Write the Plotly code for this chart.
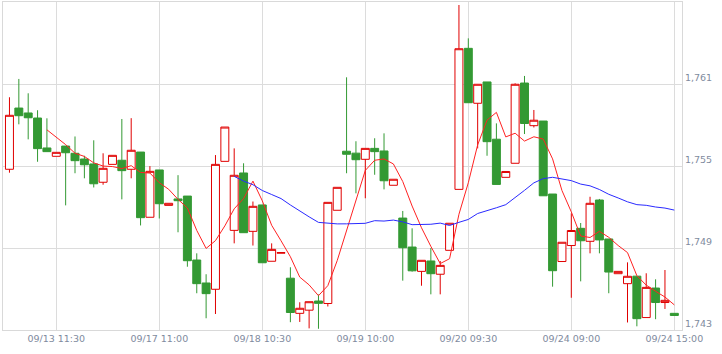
import plotly.graph_objects as go
import pandas as pd

open_ = [1754.76, 1759.24, 1758.88, 1758.51, 1756.32, 1755.71, 1756.46, 1755.93, 1755.51, 1755.15,
         1753.81, 1755.12, 1755.42, 1754.76, 1756.02, 1751.25, 1754.71, 1752.12, 1752.59, 1752.80,
         1748.12, 1746.44, 1745.98, 1755.34, 1750.29, 1754.49, 1750.22, 1752.15, 1748.03, 1748.62,
         1746.79, 1744.22, 1744.45, 1745.12, 1744.94, 1751.76, 1756.08, 1755.94, 1755.49, 1756.29,
         1756.10, 1753.59, 1751.19, 1749.07, 1747.29, 1748.05, 1747.08, 1748.83, 1753.29, 1763.61,
         1759.59, 1761.15, 1756.96, 1754.17, 1755.20, 1761.07, 1757.95, 1758.29, 1752.95, 1748.01,
         1749.18, 1750.44, 1749.49, 1752.51, 1749.66, 1747.12, 1746.39, 1746.94, 1743.91, 1746.07,
         1745.01, 1744.22]
high = [1760.03, 1761.37, 1760.32, 1759.08, 1758.49, 1756.00, 1756.46, 1757.16, 1755.75, 1756.88,
        1755.93, 1755.78, 1758.44, 1758.50, 1756.02, 1754.99, 1754.71, 1752.27, 1754.33, 1752.80,
        1748.61, 1747.08, 1755.80, 1757.85, 1756.29, 1755.20, 1752.40, 1752.15, 1749.34, 1748.66,
        1747.59, 1745.03, 1745.07, 1745.60, 1752.34, 1753.44, 1761.49, 1756.81, 1756.29, 1757.03,
        1757.39, 1754.03, 1751.71, 1750.44, 1748.10, 1749.00, 1748.05, 1750.81, 1766.78, 1764.34,
        1760.98, 1761.15, 1758.12, 1754.60, 1761.05, 1761.59, 1759.10, 1758.29, 1752.95, 1749.42,
        1751.54, 1750.83, 1752.75, 1752.59, 1749.66, 1747.29, 1747.95, 1746.94, 1747.15, 1746.71,
        1747.39, 1744.22]
low = [1754.51, 1758.05, 1756.95, 1755.31, 1756.05, 1755.71, 1752.12, 1754.47, 1754.10, 1753.43,
       1753.63, 1755.12, 1752.56, 1754.10, 1750.65, 1751.25, 1751.16, 1752.12, 1750.15, 1747.63,
       1745.69, 1743.86, 1744.17, 1755.34, 1749.34, 1750.12, 1749.18, 1747.92, 1748.03, 1748.62,
       1743.57, 1743.59, 1743.12, 1743.09, 1744.72, 1751.76, 1754.47, 1753.00, 1752.64, 1754.36,
       1753.29, 1753.59, 1746.61, 1747.27, 1746.24, 1745.61, 1745.61, 1748.83, 1753.29, 1759.63,
       1756.29, 1755.75, 1753.65, 1754.17, 1755.20, 1757.34, 1757.82, 1752.82, 1746.17, 1748.01,
       1745.36, 1746.56, 1748.61, 1748.61, 1745.69, 1747.12, 1743.55, 1743.27, 1743.91, 1743.79,
       1744.54, 1744.06]
close = [1758.71, 1758.68, 1758.53, 1756.27, 1756.05, 1756.00, 1755.97, 1755.39, 1755.09, 1753.70,
         1754.83, 1755.78, 1754.66, 1756.15, 1751.22, 1754.61, 1752.24, 1752.27, 1752.46, 1748.07,
         1746.39, 1745.66, 1755.12, 1757.85, 1754.32, 1750.12, 1752.05, 1747.92, 1748.90, 1748.66,
         1744.28, 1744.59, 1745.07, 1744.95, 1752.34, 1753.44, 1755.86, 1755.46, 1756.29, 1756.05,
         1753.92, 1754.03, 1749.02, 1747.33, 1748.10, 1747.12, 1747.73, 1750.81, 1763.58, 1759.63,
         1760.98, 1756.78, 1753.65, 1754.60, 1760.98, 1758.11, 1758.35, 1752.82, 1747.34, 1749.42,
         1750.28, 1749.53, 1752.27, 1749.59, 1747.24, 1747.29, 1746.93, 1743.83, 1746.12, 1745.01,
         1745.17, 1744.06]

tick_positions = [5, 16, 27, 38, 49, 60, 71]
tick_labels = ["09/13 11:30", "09/17 11:00", "09/18 10:30", "09/19 10:00",
               "09/20 09:30", "09/24 09:00", "09/24 15:00"]
y_ticks = [1743, 1749, 1755, 1761]

x = list(range(len(close)))
ma_short = pd.Series(close).rolling(5).mean()
ma_long = pd.Series(close).rolling(25).mean()

fig = go.Figure()
fig.add_trace(go.Candlestick(
    x=x, open=open_, high=high, low=low, close=close,
    increasing=dict(line=dict(color="#e00000", width=1), fillcolor="#ffffff"),
    decreasing=dict(line=dict(color="#339933", width=1), fillcolor="#339933"),
    whiskerwidth=0, showlegend=False, hoverinfo="skip"))
fig.add_trace(go.Scatter(x=x, y=ma_short, mode="lines",
                         line=dict(color="#ff2222", width=1), showlegend=False))
fig.add_trace(go.Scatter(x=x, y=ma_long, mode="lines",
                         line=dict(color="#2a2aff", width=1), showlegend=False))

font = dict(family="DejaVu Sans", size=9.5, color="#7f8b9e")
fig.update_layout(
    width=722, height=354,
    margin=dict(l=3, r=40, t=2, b=24),
    paper_bgcolor="#ffffff", plot_bgcolor="#ffffff",
    showlegend=False,
    boxgap=0.15, boxgroupgap=0,
    xaxis=dict(range=[-0.69, 71.82], tickvals=tick_positions, ticktext=tick_labels,
               showgrid=True, gridcolor="#dcdcdc", gridwidth=1,
               showline=True, mirror=True, linecolor="#d9d9d9", linewidth=1,
               zeroline=False, ticks="", tickfont=font,
               rangeslider=dict(visible=False)),
    yaxis=dict(range=[1743, 1767], tickvals=y_ticks, tickformat=",d", side="right",
               showgrid=True, gridcolor="#dcdcdc", gridwidth=1,
               showline=True, mirror=True, linecolor="#d9d9d9", linewidth=1,
               zeroline=False, ticks="", tickfont=font,
               ticklabelposition="outside top"),
)
fig.write_html("out.html")
